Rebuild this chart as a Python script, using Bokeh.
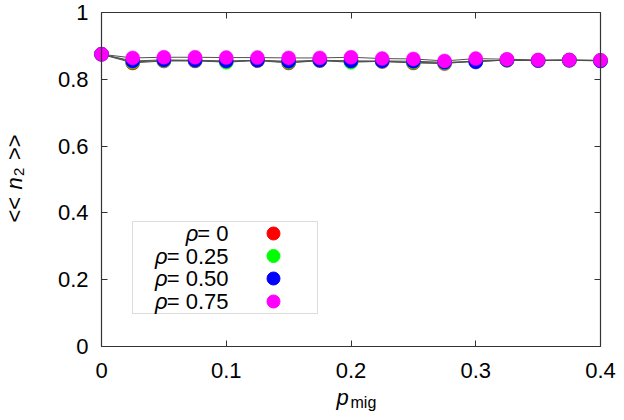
import math
from bokeh.plotting import figure
from bokeh.models import (Range1d, FixedTicker, LinearAxis, Label, BoxAnnotation)
from bokeh.embed import file_html
from bokeh.resources import INLINE

# ---------------- data ----------------
p_mig = [0.0, 0.025, 0.05, 0.075, 0.1, 0.125, 0.15, 0.175, 0.2,
         0.225, 0.25, 0.275, 0.3, 0.325, 0.35, 0.375, 0.4]
n2_rho0 = [0.875, 0.849, 0.855, 0.855, 0.853, 0.856, 0.849, 0.856, 0.854,
           0.853, 0.849, 0.847, 0.855, 0.857, 0.856, 0.857, 0.856]
n2_rho025 = [0.875, 0.852, 0.856, 0.856, 0.851, 0.857, 0.851, 0.856, 0.851,
             0.854, 0.851, 0.849, 0.855, 0.857, 0.856, 0.857, 0.856]
n2_rho050 = [0.875, 0.855, 0.858, 0.857, 0.855, 0.857, 0.854, 0.857, 0.855,
             0.855, 0.854, 0.851, 0.852, 0.858, 0.856, 0.857, 0.855]
n2_rho075 = [0.875, 0.864, 0.866, 0.866, 0.865, 0.865, 0.864, 0.864, 0.866,
             0.862, 0.861, 0.855, 0.862, 0.860, 0.858, 0.858, 0.857]
series_labels = ["0", "0.25", "0.50", "0.75"]
series_colors = ["#ff0000", "#00ff00", "#0000ff", "#ff00ff"]
series_values = [n2_rho0, n2_rho025, n2_rho050, n2_rho075]

x_ticks = [0.0, 0.1, 0.2, 0.3, 0.4]
x_tick_labels = ["0", "0.1", "0.2", "0.3", "0.4"]
y_ticks = [0.0, 0.2, 0.4, 0.6, 0.8, 1.0]
y_tick_labels = ["0", "0.2", "0.4", "0.6", "0.8", "1"]
XMIN, XMAX = 0.0, 0.4
YMIN, YMAX = 0.0, 1.0

# ---------------- layout (pixel box of the data area inside the canvas) ----------------
W, H = 616, 412
FX0, FX1 = 101, 600
FY0, FY1 = 12, 346
FONT = "Liberation Sans"
FS = 22

def dx(px):
    return XMIN + (px - FX0) / (FX1 - FX0) * (XMAX - XMIN)

def dy(py):
    return YMIN + (FY1 - py) / (FY1 - FY0) * (YMAX - YMIN)

ADV = {"=": 0.584, " ": 0.278, ".": 0.278, "<": 0.584, ">": 0.584,
       "m": 0.833, "i": 0.222, "g": 0.556, "n": 0.556, "p": 0.556}
def tw(s, size):
    return sum(ADV.get(c, 0.556) for c in s) * size

# The frame is the whole canvas; the axes are pinned at the data limits.
p = figure(width=W, height=H, output_backend="svg", toolbar_location=None,
           x_range=Range1d(dx(0), dx(W)), y_range=Range1d(dy(H), dy(0)),
           min_border=0, x_axis_location=None, y_axis_location=None)
p.title.visible = False
p.grid.visible = False
p.background_fill_color = "white"
p.border_fill_color = "white"
p.outline_line_color = None

AXC = "#333333"

def make_axis(ticks, labels, show_labels, standoff, loc, bounds):
    ax = LinearAxis(ticker=FixedTicker(ticks=ticks), fixed_location=loc, bounds=bounds)
    if show_labels:
        ax.major_label_overrides = {t: l for t, l in zip(ticks, labels)}
        ax.major_label_text_font_size = f"{FS}px"
    else:
        ax.major_label_overrides = {t: "" for t in ticks}
        ax.major_label_text_font_size = "1px"
    ax.major_tick_in = 6
    ax.major_tick_out = 0
    ax.minor_tick_line_color = None
    ax.major_tick_line_color = AXC
    ax.axis_line_color = AXC
    ax.axis_line_width = 1.2
    ax.major_label_standoff = standoff
    ax.major_label_text_font = FONT
    ax.major_label_text_color = "black"
    return ax

# ---------------- series ----------------
for vals, col in zip(series_values, series_colors):
    p.line(p_mig, vals, line_color="#505050", line_width=1)
    p.scatter(p_mig, vals, size=14, fill_color=col, line_color=col, line_width=0.5)

p.add_layout(make_axis(y_ticks, y_tick_labels, True, 13, XMIN, (YMIN, YMAX)), "left")
p.add_layout(make_axis(x_ticks, x_tick_labels, True, 16, YMIN, (XMIN, XMAX)), "below")
p.add_layout(make_axis(y_ticks, y_tick_labels, False, 0, XMAX, (YMIN, YMAX)), "right")
p.add_layout(make_axis(x_ticks, x_tick_labels, False, 0, YMAX, (XMIN, XMAX)), "above")

# ---------------- legend (gnuplot style: text then symbol) ----------------
box = BoxAnnotation(left=dx(132), right=dx(317), top=dy(221), bottom=dy(313),
                    fill_color="white", fill_alpha=1.0, line_color="#8a8a8a",
                    line_width=1, level="underlay")
p.add_layout(box)
row_py = [233, 255.5, 278, 301]
text_right_px = 228
marker_px = 273
leg_x, leg_y = [], []
for lab, col, py in zip(series_labels, series_colors, row_py):
    rest = "= " + lab
    p.add_layout(Label(x=dx(text_right_px), y=dy(py), text=rest, text_align="right",
                       text_baseline="middle", text_font=FONT, text_font_size=f"{FS}px",
                       text_color="black"))
    p.add_layout(Label(x=dx(text_right_px), y=dy(py), text="ρ", text_align="right",
                       text_baseline="middle", text_font=FONT, text_font_size=f"{FS}px",
                       text_font_style="italic", text_color="black",
                       x_offset=-tw(rest, FS) + 1))
    leg_x.append(dx(marker_px))
    leg_y.append(dy(py))
p.scatter(leg_x, leg_y, size=13, fill_color=series_colors, line_color=series_colors)

# ---------------- axis titles ----------------
# y title  << n_2 >>  (rotated, reading bottom to top)
ybase = 13.5
y_pieces = [("<<", FS, "normal", 0, 222),
            ("n", FS, "italic", 0, 189),
            ("2", 15, "normal", 5, 175.5),
            (">>", FS, "normal", 0, 159.5)]
for s, f, st, sh, py in y_pieces:
    p.add_layout(Label(x=dx(ybase + sh), y=dy(py), text=s, angle=math.pi / 2,
                       text_align="left", text_baseline="alphabetic", text_font=FONT,
                       text_font_size=f"{f}px", text_font_style=st, text_color="black"))

# x title  p_mig
p.add_layout(Label(x=dx(336), y=dy(397), text="p", text_align="left",
                   text_baseline="alphabetic", text_font=FONT, text_font_size=f"{FS}px",
                   text_font_style="italic", text_color="black"))
p.add_layout(Label(x=dx(350), y=dy(401.5), text="mig", text_align="left",
                   text_baseline="alphabetic", text_font=FONT, text_font_size="16px",
                   text_color="black"))

open("out.html", "w").write(file_html(p, INLINE))
